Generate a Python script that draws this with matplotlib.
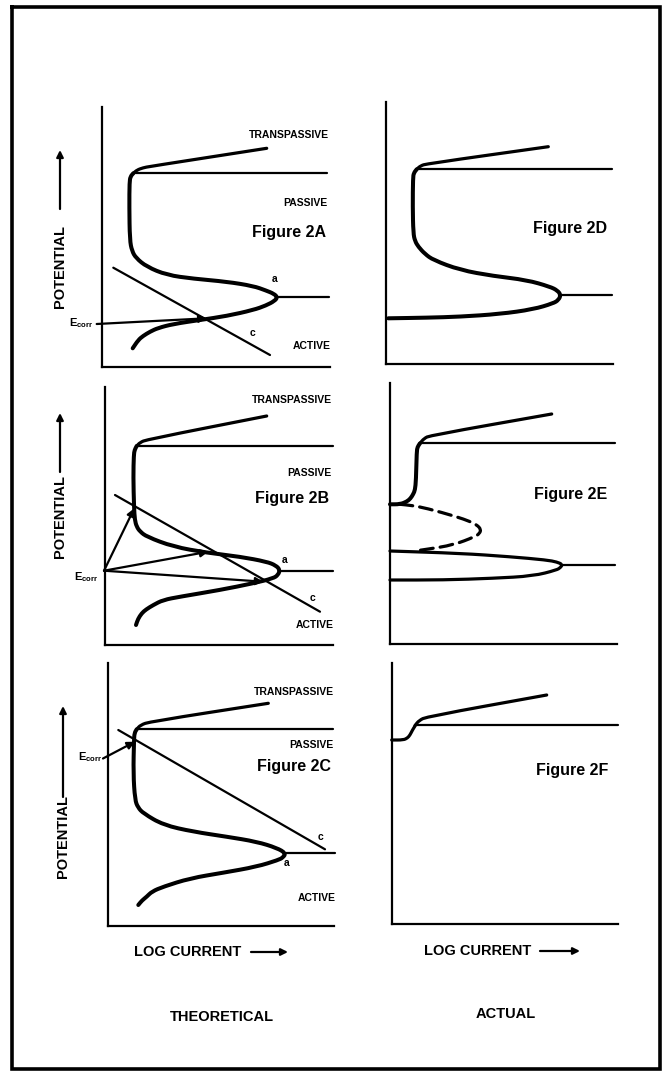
import matplotlib.pyplot as plt
from matplotlib.path import Path
from matplotlib.patches import PathPatch
import numpy as np

# canvas size in pixels (figure drawn at dpi 100)
W, H = 663, 1072

plt.rcParams['font.family'] = ['Liberation Sans', 'DejaVu Sans']

# ---- curve data (image pixel coordinates) ----
# Figure 2A (theoretical, cathodic line crosses in active region)
A_anodic = [(133.3, 173.3), (130.5, 176.5), (129.5, 182), (129.3, 206.7), (129.8, 240),
            (132, 251), (136, 258), (146.7, 266.7), (166.7, 275), (193.3, 278.7),
            (226.7, 281.7), (253.3, 286), (266, 290.5), (274, 293.8), (277.5, 297.3),
            (274.5, 301), (266, 305.5), (253.3, 310), (226.7, 316), (200, 320),
            (173.3, 324), (158, 328), (150, 331.7), (143, 336), (138.3, 340), (132.7, 348.3)]
A_passive = [(133.3, 173.3), (327, 173.3)]
A_transpassive = [(133.3, 173.3), (137, 170), (143, 167.8), (150, 166.4), (266.7, 148.3)]
A_limit = [(276.7, 297.3), (329.3, 297.3)]
A_cathodic = [(113.3, 267.7), (270, 355)]
A_ecorr_arrows = [((96.7, 324), (206.7, 318.3))]

# Figure 2B (cathodic line crosses three times)
B_anodic = [(136.7, 446), (134.6, 450), (133.8, 455), (133.3, 476.7), (134, 506.7),
            (134.8, 520), (136.7, 526.7), (140, 531.5), (146.7, 536.7), (173.3, 546.7),
            (206.7, 552.7), (240, 556.7), (266.7, 561.7), (276, 565.5), (280, 570),
            (278, 575), (273.3, 578.3), (253.3, 583.3), (220, 590), (180, 596.7),
            (163, 600), (153.3, 605), (146, 609.5), (141.7, 613.3), (138, 619), (136, 625)]
B_passive = [(136.7, 446), (333.3, 446)]
B_transpassive = [(136.7, 446), (140, 442.5), (146.7, 439.6), (266.7, 416)]
B_limit = [(279.3, 570.7), (333.3, 570.7)]
B_cathodic = [(115, 495), (320, 611.7)]
B_ecorr_arrows = [((104, 570.7), (134.3, 508.3)),
                  ((104, 570.7), (208.3, 551.7)),
                  ((104, 570.7), (263.3, 581.7))]

# Figure 2C (cathodic line crosses in passive region)
C_anodic = [(136.7, 729.3), (134.5, 733), (134, 740), (133.3, 773.3), (135, 800),
            (138, 807.5), (143.3, 813.3), (163.3, 825), (193.3, 831.7), (226.7, 836.7),
            (256.7, 841.7), (277, 848), (285.8, 853.3), (283, 857.5), (278.3, 860),
            (256.7, 866.7), (223.3, 872.7), (190, 878.3), (163.3, 886.7), (152, 891.5),
            (146.7, 896.7), (142, 900.5), (138.3, 905)]
C_passive = [(136.7, 729.3), (333.3, 729.3)]
C_transpassive = [(136.7, 729.3), (140.5, 725), (150, 721.7), (268.3, 703.3)]
C_limit = [(285, 852.7), (335, 852.7)]
C_cathodic = [(118.3, 730), (325, 849.3)]
C_ecorr_arrows = [((103, 758.5), (135, 741.7))]

# Figure 2D (actual, matching 2A)
D_anodic = [(416.7, 169.3), (413.8, 173), (413, 178), (412.7, 206.7), (413.3, 233.3),
            (415, 241), (418.3, 246.7), (425, 254), (433.3, 260), (460, 270),
            (493.3, 276), (526.7, 280), (550, 286.7), (557.5, 290.5), (560.8, 295),
            (558.5, 300), (553.3, 303.3), (533.3, 309.3), (500, 314), (460, 316.7),
            (426.7, 317.7), (388.3, 318.3)]
D_passive = [(416.7, 169.3), (611.7, 169.3)]
D_transpassive = [(416.7, 169.3), (420.5, 165.8), (426.7, 163.8), (548.3, 146.7)]
D_limit = [(560, 295), (611.7, 295)]

# Figure 2E (actual, matching 2B)
E_anodic = [(420, 443.3), (417.5, 447), (416.7, 451.7), (416, 480), (415, 490),
            (413.3, 494), (410.5, 498.5), (406.7, 501.7), (400, 504.3), (390, 504.3)]
E_hidden = [(400, 504.3), (412, 505.5), (426.7, 508.3), (456.7, 516.7), (470, 521.5),
            (477, 525), (481, 529.5), (479.5, 533.5), (475, 536.7), (453.3, 545),
            (426.7, 549.3), (416.7, 550.7)]
E_loop = [(390, 551), (460, 553.3), (510, 556.7), (546.7, 560), (557, 562), (562.5, 564.5),
          (560.5, 567.5), (556.7, 570), (533.3, 576), (493.3, 578.3), (443.3, 580), (390, 580)]
E_passive = [(420, 443.3), (615, 443.3)]
E_transpassive = [(420, 443.3), (424, 438.5), (430, 435.5), (551.7, 414)]
E_limit = [(561.7, 564.5), (615, 564.5)]

# Figure 2F (actual, matching 2C)
F_anodic = [(391.7, 740), (403.3, 740), (407.5, 738), (410, 735), (412.5, 730), (415, 726)]
F_passive = [(415, 724.5), (618.3, 724.5)]
F_transpassive = [(415, 725.5), (419, 720.5), (426.7, 716.7), (546.7, 695)]

# ---- layout ----
# panel frames: left, top, right, bottom (pixels)
boxes = {
    "A": (102, 107, 330, 367),
    "B": (105, 387, 333, 645),
    "C": (108, 663, 334, 926),
    "D": (386, 102, 613, 364),
    "E": (390, 383, 617, 644),
    "F": (392, 663, 618, 924),
}

THICK = 2.9
MID = 2.3
THIN = 1.6

fig = plt.figure(figsize=(W / 100, H / 100), dpi=100)

# full-page overlay for frame and free text
page = fig.add_axes([0, 0, 1, 1])
page.set_xlim(0, W)
page.set_ylim(H, 0)
page.axis("off")


def panel(key):
    x0, y0, x1, y1 = boxes[key]
    ax = fig.add_axes([x0 / W, 1 - y1 / H, (x1 - x0) / W, (y1 - y0) / H])
    ax.set_xlim(x0, x1)
    ax.set_ylim(y1, y0)
    ax.set_facecolor("none")
    for s in ["top", "right"]:
        ax.spines[s].set_visible(False)
    for s in ["left", "bottom"]:
        ax.spines[s].set_linewidth(1.6)
    ax.set_xticks([])
    ax.set_yticks([])
    return ax


def draw(ax, pts, lw, ls="solid"):
    # smooth path: quadratic segments through the midpoints of the read points
    p = np.array(pts, dtype=float)
    verts = [p[0]]
    codes = [Path.MOVETO]
    if len(p) > 2:
        verts.append((p[0] + p[1]) / 2)
        codes.append(Path.LINETO)
        for i in range(1, len(p) - 1):
            verts += [p[i], (p[i] + p[i + 1]) / 2]
            codes += [Path.CURVE3, Path.CURVE3]
    verts.append(p[-1])
    codes.append(Path.LINETO)
    patch = PathPatch(Path(verts, codes), fill=False, color="k", lw=lw, ls=ls,
                      capstyle="round", joinstyle="round", clip_on=False)
    ax.add_patch(patch)


def arrows(ax, pairs):
    for start, end in pairs:
        ax.annotate("", xy=end, xytext=start, annotation_clip=False,
                    arrowprops=dict(arrowstyle="-|>", color="k", lw=1.6,
                                    mutation_scale=11, shrinkA=0, shrinkB=0))


curves = {
    "A": (A_anodic, A_passive, A_transpassive, A_limit),
    "B": (B_anodic, B_passive, B_transpassive, B_limit),
    "C": (C_anodic, C_passive, C_transpassive, C_limit),
    "D": (D_anodic, D_passive, D_transpassive, D_limit),
    "E": (E_anodic, E_passive, E_transpassive, E_limit),
}

axes = {}
for key in boxes:
    axes[key] = panel(key)

for key, (anodic, passive, trans, limit) in curves.items():
    ax = axes[key]
    draw(ax, anodic, THICK)
    draw(ax, passive, THIN)
    draw(ax, trans, MID)
    draw(ax, limit, THIN)

draw(axes["A"], A_cathodic, THIN)
draw(axes["B"], B_cathodic, THIN)
draw(axes["C"], C_cathodic, THIN)
arrows(axes["A"], A_ecorr_arrows)
arrows(axes["B"], B_ecorr_arrows)
arrows(axes["C"], C_ecorr_arrows)

draw(axes["E"], E_loop, MID)
draw(axes["E"], E_hidden, MID, ls=(0, (4, 2.2)))

draw(axes["F"], F_anodic, MID)
draw(axes["F"], F_passive, THIN)
draw(axes["F"], F_transpassive, MID)

# ---- text ----
small = dict(fontsize=7.5, fontweight="bold", va="center")
fig_lbl = dict(fontsize=11.5, fontweight="bold", va="center", ha="right")
big = dict(fontsize=10.5, fontweight="bold", va="center")
ecorr = r"$\mathregular{E_{corr}}$"

for y_tr, y_pa, y_fi, y_ac, x_r, name in [
        (135, 203, 233, 346, 329, "Figure 2A"),
        (400, 473, 498, 625, 332, "Figure 2B"),
        (692, 745, 767, 898, 334, "Figure 2C")]:
    page.text(x_r, y_tr, "TRANSPASSIVE", ha="right", **small)
    page.text(x_r - 1, y_pa, "PASSIVE", ha="right", **small)
    page.text(x_r - 3, y_fi, name, **fig_lbl)
    page.text(x_r + 2, y_ac, "ACTIVE", ha="right", **small)

page.text(607, 228, "Figure 2D", **fig_lbl)
page.text(607, 495, "Figure 2E", **fig_lbl)
page.text(608, 770, "Figure 2F", **fig_lbl)

for x, y, s in [(275, 279, "a"), (253, 333, "c"), (285, 560, "a"), (312, 598, "c"),
                (320, 837, "c"), (287, 863, "a")]:
    page.text(x, y, s, fontsize=7.5, fontweight="bold", ha="center", va="center")

page.text(94, 323, ecorr, fontsize=8, fontweight="bold", ha="right", va="center")
page.text(99, 577, ecorr, fontsize=8, fontweight="bold", ha="right", va="center")
page.text(103, 757, ecorr, fontsize=8, fontweight="bold", ha="right", va="center")

# potential axis labels with upward arrows
for x, y_txt, y_a0, y_a1 in [(60, 266, 209, 150), (60, 517, 472, 413), (63, 836, 797, 706)]:
    page.text(x, y_txt, "POTENTIAL", rotation=90, ha="center", **big)
    page.annotate("", xy=(x, y_a1), xytext=(x, y_a0),
                  arrowprops=dict(arrowstyle="-|>", color="k", lw=1.6,
                                  mutation_scale=10, shrinkA=0, shrinkB=0))

# log current labels with right arrows
for x, y, x_a0, x_a1 in [(134, 952, 251, 288), (424, 951, 540, 580)]:
    page.text(x, y, "LOG CURRENT", ha="left", **big)
    page.annotate("", xy=(x_a1, y), xytext=(x_a0, y),
                  arrowprops=dict(arrowstyle="-|>", color="k", lw=1.6,
                                  mutation_scale=10, shrinkA=0, shrinkB=0))

page.text(222, 1017, "THEORETICAL", ha="center", **big)
page.text(506, 1014, "ACTUAL", ha="center", **big)

# outer frame
page.plot([12, 660, 660, 12, 12], [7, 7, 1069, 1069, 7], color="k", lw=2.6,
          solid_joinstyle="miter")

fig.savefig("out.png", dpi=100, facecolor="white")
